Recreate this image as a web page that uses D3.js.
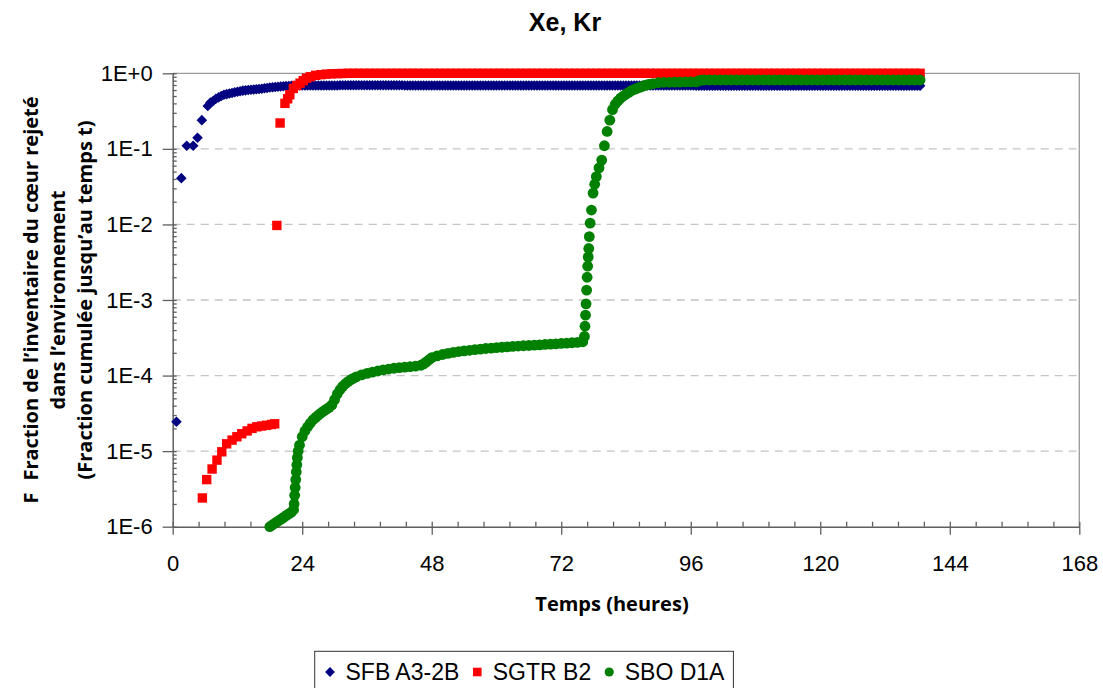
<!DOCTYPE html>
<html>
<head>
<meta charset="utf-8">
<script src="https://cdn.jsdelivr.net/npm/d3@7"></script>
<style>
body { margin: 0; background: #fff; }
svg { display: block; }
</style>
</head>
<body>
<svg width="1103" height="688"></svg>
<script>
var xTicks = [0, 24, 48, 72, 96, 120, 144, 168]
var yTicks = [1e-6, 1e-5, 1e-4, 1e-3, 1e-2, 1e-1, 1]
var yTickLabels = ["1E-6", "1E-5", "1E-4", "1E-3", "1E-2", "1E-1", "1E+0"]
var seriesNames = ["SFB A3-2B", "SGTR B2", "SBO D1A"]
var seriesColors = ["#000080", "#ff0000", "#008000"]

// [heures, fraction]
var sfbPoints = [[0.7, 2.45e-5], [1.6, 0.041], [2.6, 0.11], [3.8, 0.11], [4.6, 0.14], [5.4, 0.24], [6.5, 0.37]]
var sfbTailStart = 7, sfbTailStep = 0.5
var sfbTail = [
	0.41, 0.43, 0.46, 0.48, 0.50, 0.52, 0.53, 0.54, 0.55, 0.56, 0.57, 0.58,
	0.59, 0.595, 0.60, 0.605, 0.61, 0.615, 0.62, 0.625, 0.635, 0.64, 0.65, 0.655,
	0.66, 0.665, 0.67, 0.675, 0.68, 0.68, 0.685, 0.685, 0.69, 0.69, 0.69, 0.69,
	0.69, 0.69, 0.69, 0.69, 0.69, 0.69, 0.69, 0.69, 0.69, 0.69, 0.69, 0.69,
	0.695, 0.695, 0.695, 0.695, 0.695, 0.695, 0.695, 0.695, 0.695, 0.695, 0.695, 0.695,
	0.695, 0.695, 0.695, 0.695, 0.695, 0.695, 0.695, 0.695, 0.695, 0.695, 0.695, 0.695,
	0.69, 0.69, 0.69, 0.69, 0.69, 0.69, 0.69, 0.69, 0.69, 0.69, 0.69, 0.69,
	0.69, 0.69, 0.69, 0.69, 0.69, 0.69, 0.69, 0.69, 0.69, 0.69, 0.69, 0.69,
	0.69, 0.69, 0.69, 0.69, 0.69, 0.69, 0.69, 0.69, 0.69, 0.69, 0.69, 0.69,
	0.69, 0.69, 0.69, 0.69, 0.69, 0.69, 0.69, 0.69, 0.69, 0.69, 0.69, 0.69,
	0.69, 0.69, 0.69, 0.69, 0.69, 0.69, 0.69, 0.69, 0.69, 0.69, 0.69, 0.69,
	0.69, 0.69, 0.69, 0.69, 0.69, 0.69, 0.69, 0.69, 0.69, 0.69, 0.69, 0.69,
	0.69, 0.69, 0.69, 0.69, 0.69, 0.69, 0.69, 0.69, 0.69, 0.69, 0.69, 0.69,
	0.69, 0.69, 0.69, 0.69, 0.69, 0.69, 0.69, 0.69, 0.69, 0.69, 0.69, 0.69,
	0.69, 0.69, 0.69, 0.69, 0.69, 0.69, 0.69, 0.69, 0.69, 0.69, 0.69, 0.69,
	0.685, 0.685, 0.685, 0.685, 0.685, 0.685, 0.685, 0.685, 0.685, 0.685, 0.685, 0.685,
	0.685, 0.685, 0.685, 0.685, 0.685, 0.685, 0.685, 0.685, 0.685, 0.685, 0.685, 0.685,
	0.685, 0.685, 0.685, 0.685, 0.685, 0.685, 0.685, 0.685, 0.685, 0.685, 0.685, 0.685,
	0.685, 0.685, 0.685, 0.685, 0.685, 0.685, 0.685, 0.685, 0.685, 0.685, 0.685, 0.685,
	0.685, 0.685, 0.685, 0.685, 0.685, 0.685, 0.685, 0.685, 0.685, 0.685, 0.685, 0.685,
	0.685, 0.685, 0.685, 0.685, 0.685, 0.685, 0.685, 0.685, 0.685, 0.685, 0.685, 0.685,
	0.685, 0.685, 0.685, 0.685, 0.685, 0.685, 0.685, 0.685, 0.685, 0.685, 0.685, 0.685
]

var sgtrPoints = [
	[5.5, 2.4e-6], [6.3, 4.2e-6], [7.3, 5.8e-6], [8.2, 7.6e-6], [9.1, 9.8e-6], [10.0, 1.25e-5],
	[11.0, 1.4e-5], [11.9, 1.55e-5], [12.8, 1.7e-5], [13.8, 1.85e-5], [14.7, 2.0e-5], [15.6, 2.1e-5],
	[16.5, 2.15e-5], [17.4, 2.2e-5], [18.3, 2.25e-5], [18.9, 2.3e-5],
	[19.3, 0.0097], [19.9, 0.22], [20.8, 0.40], [21.3, 0.46], [21.7, 0.52], [22.35, 0.63],
	[23.0, 0.69], [23.6, 0.74], [24.2, 0.80], [24.8, 0.86]
]
var sgtrTailStart = 25.5, sgtrTailStep = 1
var sgtrTail = [
	0.90, 0.94, 0.96, 0.975, 0.985, 0.99, 0.995, 1, 1, 1, 1, 1,
	1, 1, 1, 1, 1, 1, 1, 1, 1, 1, 1, 1,
	1, 1, 1, 1, 1, 1, 1, 1, 1, 1, 1, 1,
	1, 1, 1, 1, 1, 1, 1, 1, 1, 1, 1, 1,
	1, 1, 1, 1, 1, 1, 1, 1, 1, 1, 1, 1,
	1, 1, 1, 1, 1, 1, 1, 1, 1, 1, 1, 1,
	1, 1, 1, 1, 1, 1, 1, 1, 1, 1, 1, 1,
	1, 1, 1, 1, 1, 1, 1, 1, 1, 1, 1, 1,
	1, 1, 1, 1, 1, 1, 1, 1, 1, 1, 1, 1,
	1, 1, 1, 1, 1, 1
]

var sboPoints = [
	[18.0, 1.0e-6], [18.5, 1.06e-6], [19.0, 1.12e-6], [19.5, 1.18e-6], [20.0, 1.25e-6], [20.5, 1.32e-6],
	[21.0, 1.4e-6], [21.5, 1.48e-6], [22.0, 1.56e-6], [22.4, 1.68e-6],
	[22.5, 2.0e-6], [22.6, 2.6e-6], [22.7, 3.3e-6], [22.8, 4.2e-6], [22.9, 5.3e-6], [23.0, 6.6e-6],
	[23.1, 8.2e-6], [23.25, 1.0e-5], [23.5, 1.2e-5], [24.0, 1.55e-5], [24.5, 1.85e-5], [25.0, 2.1e-5],
	[25.5, 2.35e-5], [26.0, 2.6e-5], [26.5, 2.8e-5], [27.0, 3.0e-5], [27.5, 3.2e-5], [28.0, 3.4e-5],
	[28.5, 3.6e-5], [29.0, 3.8e-5], [29.5, 4.1e-5], [30.0, 4.8e-5], [30.5, 5.7e-5], [31.0, 6.5e-5],
	[31.5, 7.2e-5], [32.0, 7.8e-5], [32.5, 8.3e-5], [33.0, 8.8e-5], [33.5, 9.2e-5], [34.0, 9.6e-5],
	[35, 1.02e-4], [36, 1.07e-4], [37, 1.11e-4], [38, 1.15e-4], [39, 1.19e-4], [40, 1.22e-4],
	[41, 1.25e-4], [42, 1.27e-4], [43, 1.29e-4], [44, 1.31e-4], [45, 1.33e-4], [46, 1.37e-4],
	[46.5, 1.43e-4], [47, 1.52e-4], [47.5, 1.62e-4], [48, 1.72e-4], [49, 1.82e-4], [50, 1.9e-4],
	[51, 1.97e-4], [52, 2.03e-4], [53, 2.08e-4], [54, 2.12e-4], [55, 2.16e-4], [56, 2.2e-4],
	[57, 2.24e-4], [58, 2.28e-4], [59, 2.31e-4], [60, 2.34e-4], [61, 2.37e-4], [62, 2.4e-4],
	[63, 2.43e-4], [64, 2.46e-4], [65, 2.48e-4], [66, 2.5e-4], [67, 2.53e-4], [68, 2.55e-4],
	[69, 2.58e-4], [70, 2.6e-4], [71, 2.63e-4], [72, 2.66e-4], [73, 2.69e-4], [74, 2.72e-4],
	[75, 2.75e-4], [76, 2.8e-4], [76.3, 3.3e-4], [76.4, 4.5e-4], [76.5, 6.3e-4], [76.6, 8.9e-4],
	[76.7, 1.35e-3], [76.8, 2.0e-3], [76.9, 2.8e-3], [77.0, 3.7e-3], [77.1, 4.8e-3], [77.2, 6.9e-3],
	[77.35, 1.04e-2], [77.6, 1.55e-2], [77.9, 2.6e-2], [78.2, 3.4e-2], [78.5, 4.3e-2], [79.0, 5.6e-2],
	[79.5, 7.1e-2], [80.0, 0.11], [80.5, 0.17], [81.0, 0.24], [81.5, 0.33], [82.0, 0.39],
	[82.5, 0.43], [83.0, 0.47], [83.5, 0.50], [84.0, 0.53], [84.5, 0.56], [85.0, 0.59],
	[85.5, 0.61], [86.0, 0.63], [86.5, 0.65], [87.0, 0.67], [87.5, 0.69], [88.0, 0.71],
	[88.5, 0.72], [89, 0.73], [90, 0.75], [91, 0.76], [92, 0.76], [93, 0.765],
	[94, 0.765], [95, 0.77], [96, 0.77], [97, 0.77], [97.5, 0.80], [98, 0.81]
]
var sboTailStart = 98.5, sboTailStep = 1
var sboTail = [
	0.815, 0.815, 0.815, 0.815, 0.815, 0.815, 0.815, 0.815, 0.815, 0.815, 0.815, 0.815,
	0.815, 0.815, 0.815, 0.815, 0.815, 0.815, 0.815, 0.815, 0.815, 0.815, 0.815, 0.815,
	0.815, 0.815, 0.815, 0.815, 0.815, 0.815, 0.815, 0.815, 0.815, 0.815, 0.815, 0.815,
	0.815, 0.815, 0.815, 0.815, 0.815
]

var svg = d3.select("svg"),
	width = +svg.attr("width"),
	height = +svg.attr("height")

var plot = {left: 172.7, right: 1079.3, top: 73.3, bottom: 526.7}

var x = d3.scaleLinear().domain([0, 168]).range([plot.left, plot.right])
var y = d3.scaleLog().domain([1e-6, 1]).range([plot.bottom, plot.top])

var axisColor = "#5f5f5f"
var tickFont = "'Liberation Sans', Arial, sans-serif"
var titleFont = "'Open Sans', 'Noto Sans', sans-serif"

function withTail(points, start, step, tail) {
	return points.concat(tail.map((v, i) => [start + i * step, v]))
}
var sfb = withTail(sfbPoints, sfbTailStart, sfbTailStep, sfbTail)
var sgtr = withTail(sgtrPoints, sgtrTailStart, sgtrTailStep, sgtrTail)
var sbo = withTail(sboPoints, sboTailStart, sboTailStep, sboTail)

svg.append("rect").attr("width", width).attr("height", height).style("fill", "#fff")

// dashed gridlines
svg.append("g").selectAll("line")
	.data(yTicks.filter(d => d > 1e-6 && d < 1))
	.enter().append("line")
	.attr("x1", x(0)).attr("x2", x(168))
	.attr("y1", d => y(d)).attr("y2", d => y(d))
	.style("stroke", "#c4c4c4")
	.style("stroke-width", 1.3)
	.style("stroke-dasharray", "8,6")

// top and right frame
svg.append("path")
	.attr("d", "M" + x(0) + "," + y(1) + "H" + x(168) + "V" + y(1e-6))
	.style("fill", "none")
	.style("stroke", "#9a9a9a")
	.style("stroke-width", 1.3)

// x axis
var xAxis = d3.axisBottom(x).tickValues(xTicks).tickSizeInner(8).tickSizeOuter(0).tickPadding(21)
var gx = svg.append("g").attr("transform", "translate(0," + y(1e-6) + ")").call(xAxis)
gx.selectAll(".tick line").attr("y1", -5)

var xMinor = d3.range(1, 35).filter(i => i % 5 != 0).map(i => i * 4.8)
var gxm = svg.append("g").attr("transform", "translate(0," + y(1e-6) + ")")
	.call(d3.axisBottom(x).tickValues(xMinor).tickSize(-5).tickFormat(""))
gxm.select(".domain").remove()

// y axis
var yAxis = d3.axisLeft(y).tickValues(yTicks)
	.tickFormat(d => yTickLabels[yTicks.indexOf(d)])
	.tickSizeInner(10).tickSizeOuter(0).tickPadding(10)
var gy = svg.append("g").attr("transform", "translate(" + x(0) + ",0)").call(yAxis)
gy.selectAll(".tick line").attr("x1", 4)

var yMinor = []
d3.range(-6, 0).forEach(function(k) {
	d3.range(2, 10).forEach(function(m) { yMinor.push(m * Math.pow(10, k)) })
})
var gym = svg.append("g").attr("transform", "translate(" + x(0) + ",0)")
	.call(d3.axisLeft(y).tickValues(yMinor).tickSize(-4).tickFormat(""))
gym.select(".domain").remove()

;[gx, gxm, gy, gym].forEach(function(g) {
	g.select(".domain").style("stroke", axisColor).style("stroke-width", 1.5)
	g.selectAll(".tick line").style("stroke", axisColor).style("stroke-width", 1.3)
	g.selectAll("text")
		.style("font-family", tickFont)
		.style("font-size", "22px")
		.style("fill", "#000")
})

// series, drawn in Excel order
svg.append("g").selectAll("path")
	.data(sfb)
	.enter().append("path")
	.attr("d", d3.symbol().type(d3.symbolSquare).size(56))
	.attr("transform", d => "translate(" + x(d[0]) + "," + y(d[1]) + ") rotate(45)")
	.style("fill", seriesColors[0])

svg.append("g").selectAll("rect")
	.data(sgtr)
	.enter().append("rect")
	.attr("x", d => x(d[0]) - 4.7)
	.attr("y", d => y(d[1]) - 4.7)
	.attr("width", 9.4)
	.attr("height", 9.4)
	.style("fill", seriesColors[1])

svg.append("g").selectAll("circle")
	.data(sbo)
	.enter().append("circle")
	.attr("cx", d => x(d[0]))
	.attr("cy", d => y(d[1]))
	.attr("r", 5.4)
	.style("fill", seriesColors[2])

// titles
svg.append("text")
	.attr("x", 565).attr("y", 31)
	.attr("text-anchor", "middle")
	.style("font-family", tickFont)
	.style("font-weight", "bold")
	.style("font-size", "25px")
	.text("Xe, Kr")

svg.append("text")
	.attr("x", 612).attr("y", 611)
	.attr("text-anchor", "middle")
	.style("font-family", titleFont)
	.style("font-weight", "bold")
	.style("font-size", "20px")
	.text("Temps (heures)")

var yTitle = svg.append("g").attr("transform", "translate(0,300) rotate(-90)")
	.style("font-family", titleFont)
	.style("font-weight", "bold")
	.style("font-size", "20px")
	.attr("text-anchor", "middle")

var line1 = yTitle.append("text").attr("x", 0).attr("y", 38)
line1.append("tspan").text("F")
line1.append("tspan").attr("dx", 12).text("Fraction de l\u2019inventaire du c\u0153ur rejet\u00e9")
yTitle.append("text").attr("x", 0).attr("y", 65).text("dans l\u2019environnement")
yTitle.append("text").attr("x", 0).attr("y", 92).text("(Fraction cumul\u00e9e jusqu\u2019au temps t)")

// legend
var legend = svg.append("g")
var legendBox = legend.append("rect")
	.attr("x", 314.7).attr("y", 651.3)
	.attr("height", 50)
	.style("fill", "#fff")
	.style("stroke", "#333")
	.style("stroke-width", 1)

var lx = 312
seriesNames.forEach(function(name, i) {
	var mx = lx + 18
	if (i == 0) {
		legend.append("path")
			.attr("d", d3.symbol().type(d3.symbolSquare).size(48))
			.attr("transform", "translate(" + mx + ",672) rotate(45)")
			.style("fill", seriesColors[i])
	} else if (i == 1) {
		legend.append("rect")
			.attr("x", mx - 4.3).attr("y", 667.7)
			.attr("width", 8.6).attr("height", 8.6)
			.style("fill", seriesColors[i])
	} else {
		legend.append("circle")
			.attr("cx", mx).attr("cy", 672).attr("r", 4.6)
			.style("fill", seriesColors[i])
	}
	var t = legend.append("text")
		.attr("x", mx + 15.5).attr("y", 679.5)
		.style("font-family", tickFont)
		.style("font-size", "23px")
		.style("fill", "#000")
		.text(name)
	lx = mx + 15.5 + t.node().getComputedTextLength()
})
legendBox.attr("width", lx + 9 - 314.7)
</script>
</body>
</html>
